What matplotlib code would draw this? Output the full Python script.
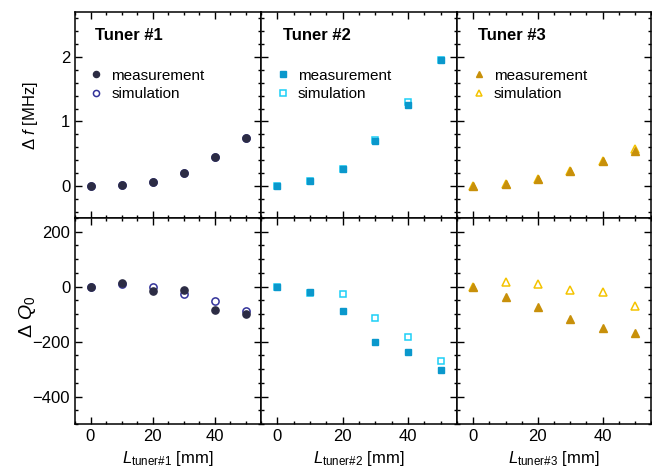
import numpy as np
import matplotlib
matplotlib.use('Agg')
import matplotlib.pyplot as plt
from matplotlib.ticker import MultipleLocator

plt.rcParams['font.family'] = ['Liberation Sans', 'DejaVu Sans']
plt.rcParams['mathtext.fontset'] = 'custom'
plt.rcParams['mathtext.rm'] = 'Liberation Sans'
plt.rcParams['mathtext.it'] = 'Liberation Sans:italic'

# tuner insertion depth [mm]
length = [0, 10, 20, 30, 40, 50]

# frequency shift [MHz]
df_meas_1 = [0.0, 0.02, 0.06, 0.20, 0.44, 0.74]
df_sim_1 = [0.0, 0.02, 0.06, 0.20, 0.44, 0.74]
df_meas_2 = [0.0, 0.067, 0.256, 0.69, 1.25, 1.96]
df_sim_2 = [0.0, 0.07, 0.26, 0.71, 1.30, 1.96]
df_meas_3 = [0.0, 0.026, 0.10, 0.225, 0.385, 0.54]
df_sim_3 = [0.0, 0.026, 0.10, 0.225, 0.385, 0.57]

# quality factor change
dq_meas_1 = [0, 15, -15, -13, -85, -101]
dq_sim_1 = [0, 10, 0, -27, -51, -88]
dq_meas_2 = [0, -18, -87, -201, -239, -302]
dq_sim_2 = [0, -22, -25, -113, -183, -270]
dq_meas_3 = [0, -38, -74, -119, -151, -169]
dq_sim_3 = [0, 16, 10, -11, -18, -72]

tuner_names = ['Tuner #1', 'Tuner #2', 'Tuner #3']
xlabels = [r'$L_{\mathrm{tuner\#1}}$ [mm]', r'$L_{\mathrm{tuner\#2}}$ [mm]',
           r'$L_{\mathrm{tuner\#3}}$ [mm]']

styles = [
    dict(marker='o', ms=5.2, meas='#2c2c44', sim='#33339a'),
    dict(marker='s', ms=5.0, meas='#0a98cc', sim='#1ccff7'),
    dict(marker='^', ms=5.6, meas='#c8900a', sim='#f4c300'),
]

df_meas = [df_meas_1, df_meas_2, df_meas_3]
df_sim = [df_sim_1, df_sim_2, df_sim_3]
dq_meas = [dq_meas_1, dq_meas_2, dq_meas_3]
dq_sim = [dq_sim_1, dq_sim_2, dq_sim_3]

fig, axes = plt.subplots(2, 3, figsize=(6.52, 4.72), dpi=100, sharey='row',
                         gridspec_kw=dict(width_ratios=[186, 196, 194]))
fig.subplots_adjust(left=75 / 652, right=651 / 652, top=1 - 12 / 472,
                    bottom=1 - 424 / 472, wspace=0, hspace=0)

for i in range(3):
    st = styles[i]
    top, bot = axes[0, i], axes[1, i]

    top.plot(length, df_sim[i], st['marker'], ms=st['ms'], mfc='none',
             mec=st['sim'], mew=1.1, label='simulation', zorder=2)
    top.plot(length, df_meas[i], st['marker'], ms=st['ms'], color=st['meas'],
             mec=st['meas'], label='measurement', zorder=3)
    bot.plot(length, dq_sim[i], st['marker'], ms=st['ms'], mfc='none',
             mec=st['sim'], mew=1.1, zorder=2)
    bot.plot(length, dq_meas[i], st['marker'], ms=st['ms'], color=st['meas'],
             mec=st['meas'], zorder=3)

    top.text(0.11, 0.885, tuner_names[i], transform=top.transAxes,
             fontsize=12, fontweight='bold', va='center', ha='left')
    handles, labels = top.get_legend_handles_labels()
    top.legend(handles[::-1], labels[::-1], loc='upper left',
               bbox_to_anchor=(0.04, 0.755), frameon=False, fontsize=11,
               handlelength=1.0, handletextpad=0.5, labelspacing=0.3,
               borderaxespad=0, markerscale=0.85)

    bot.set_xlabel(xlabels[i], fontsize=12, labelpad=4)

    for ax in (top, bot):
        ax.set_xlim(-5, 55)
        ax.xaxis.set_major_locator(MultipleLocator(20))
        ax.xaxis.set_minor_locator(MultipleLocator(5))
        ax.tick_params(which='both', direction='in', top=True, right=True,
                       width=1.0, labelsize=12)
        ax.tick_params(which='major', length=5)
        ax.tick_params(which='minor', length=2.5)
        for sp in ax.spines.values():
            sp.set_linewidth(1.1)
    top.tick_params(labelbottom=False)
    if i > 0:
        top.tick_params(labelleft=False)
        bot.tick_params(labelleft=False)

axes[0, 0].set_ylim(-0.5, 2.7)
axes[0, 0].yaxis.set_major_locator(MultipleLocator(1))
axes[0, 0].yaxis.set_minor_locator(MultipleLocator(0.2))
axes[1, 0].set_ylim(-500, 250)
axes[1, 0].yaxis.set_major_locator(MultipleLocator(200))
axes[1, 0].yaxis.set_minor_locator(MultipleLocator(50))

axes[0, 0].set_ylabel(r'$\Delta\ \mathit{f}$ [MHz]', fontsize=12)
axes[1, 0].set_ylabel(r'$\Delta\ \mathit{Q}_0$', fontsize=14)
axes[0, 0].yaxis.set_label_coords(-0.19, 0.5)
axes[1, 0].yaxis.set_label_coords(-0.2, 0.52)

fig.savefig('out.png', dpi=100)
